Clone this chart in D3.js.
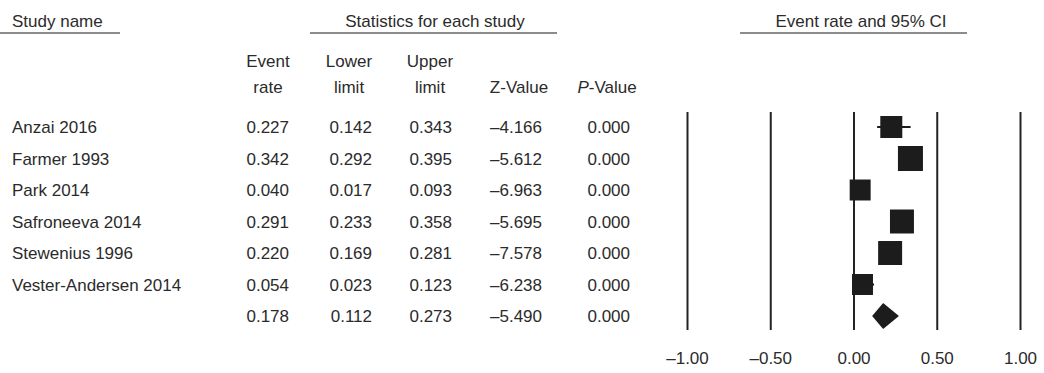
<!DOCTYPE html>
<html>
<head>
<meta charset="utf-8">
<script src="https://cdn.jsdelivr.net/npm/d3@7"></script>
<style>
  html, body { margin: 0; padding: 0; background: #fff; }
  svg { display: block; }
  text { font-family: "Liberation Sans", Arial, Helvetica, sans-serif; font-size: 17px; fill: #2b2b2b; }
</style>
</head>
<body>
<svg id="chart" width="1044" height="373"></svg>
<script>
// Study-level event rates with 95% CI
const studies   = ["Anzai 2016", "Farmer 1993", "Park 2014", "Safroneeva 2014", "Stewenius 1996", "Vester-Andersen 2014"];
const eventRate = [0.227, 0.342, 0.040, 0.291, 0.220, 0.054];
const lowerLim  = [0.142, 0.292, 0.017, 0.233, 0.169, 0.023];
const upperLim  = [0.343, 0.395, 0.093, 0.358, 0.281, 0.123];
const zValues   = [-4.166, -5.612, -6.963, -5.695, -7.578, -6.238];
const pValues   = [0.000, 0.000, 0.000, 0.000, 0.000, 0.000];
const weights   = [15.4, 19.9, 14.0, 18.3, 18.3, 14.0];   // relative weight (%)

// Pooled estimate
const pooledRate  = [0.178];
const pooledLower = [0.112];
const pooledUpper = [0.273];
const pooledZ     = [-5.490];
const pooledP     = [0.000];

const axisTicks = [-1.0, -0.5, 0.0, 0.5, 1.0];

const fmt = d3.formatLocale({decimal: ".", thousands: ",", grouping: [3], currency: ["", ""], minus: "\u2013"}).format(".3f");
const tickFmt = d3.formatLocale({decimal: ".", thousands: ",", grouping: [3], currency: ["", ""], minus: "\u2013"}).format(".2f");

const svg = d3.select("#chart");

// rows: 6 studies + pooled line
const nRows = studies.length + 1;
const y = d3.scaleLinear().domain([0, nRows - 1]).range([127, 316]);
const x = d3.scaleLinear().domain([-1, 1]).range([687, 1020]);
const size = d3.scaleSqrt().domain([0, d3.max(weights)]).range([0, 25]);

// ---- section headers with underlines ----
const headers = [
  {label: "Study name", x: 12, anchor: "start", x1: 0, x2: 120},
  {label: "Statistics for each study", x: 435, anchor: "middle", x1: 310, x2: 557},
  {label: "Event rate and 95% CI", x: 861, anchor: "middle", x1: 740, x2: 967}
];
svg.selectAll("line.hdr").data(headers).join("line")
  .attr("class", "hdr")
  .attr("x1", d => d.x1).attr("x2", d => d.x2)
  .attr("y1", 33).attr("y2", 33)
  .attr("stroke", "#8c8c8c").attr("stroke-width", 2);
svg.selectAll("text.hdr").data(headers).join("text")
  .attr("class", "hdr")
  .attr("x", d => d.x).attr("y", 27)
  .attr("text-anchor", d => d.anchor)
  .text(d => d.label);

// ---- column headers ----
const columns = [
  {top: "Event", bottom: "rate", hx: 268, nx: 289},
  {top: "Lower", bottom: "limit", hx: 349, nx: 372},
  {top: "Upper", bottom: "limit", hx: 430, nx: 452},
  {top: "", bottom: "Z-Value", hx: 519, nx: 542},
  {top: "", bottom: "P", hx: 607, nx: 630}
];
const colG = svg.append("g");
columns.forEach(c => {
  if (c.top) colG.append("text").attr("x", c.hx).attr("y", 67).attr("text-anchor", "middle").text(c.top);
  const t = colG.append("text").attr("x", c.hx).attr("y", 93).attr("text-anchor", "middle");
  if (c.bottom === "P") {
    t.append("tspan").attr("font-style", "italic").text("P");
    t.append("tspan").text("-Value");
  } else {
    t.text(c.bottom);
  }
});

// ---- table rows ----
const rows = studies.map((s, i) => ({
  name: s, vals: [eventRate[i], lowerLim[i], upperLim[i], zValues[i], pValues[i]], i
}));
rows.push({name: "", vals: [pooledRate[0], pooledLower[0], pooledUpper[0], pooledZ[0], pooledP[0]], i: studies.length});

const rowG = svg.append("g").selectAll("g").data(rows).join("g")
  .attr("transform", d => `translate(0,${y(d.i) + 6})`);
rowG.append("text").attr("x", 12).text(d => d.name);
columns.forEach((c, k) => {
  rowG.append("text").attr("x", c.nx).attr("text-anchor", "end").text(d => fmt(d.vals[k]));
});

// ---- forest plot axis with full-height reference lines ----
const yTop = 112, yBottom = 330;
const axis = d3.axisBottom(x).tickValues(axisTicks).tickFormat(tickFmt)
  .tickSizeInner(-(yBottom - yTop)).tickSizeOuter(0).tickPadding(22);
const axG = svg.append("g").attr("transform", `translate(0,${yBottom})`).call(axis);
axG.select(".domain").remove();
axG.selectAll(".tick line").attr("stroke", "#222").attr("stroke-width", 2);
axG.selectAll(".tick text").attr("fill", "#2b2b2b").attr("font-size", 17)
  .attr("font-family", "'Liberation Sans', Arial, Helvetica, sans-serif");

// ---- CI whiskers and weighted squares ----
const plotG = svg.append("g");
plotG.selectAll("line.ci").data(studies.map((s, i) => i)).join("line")
  .attr("class", "ci")
  .attr("x1", i => x(lowerLim[i])).attr("x2", i => x(upperLim[i]))
  .attr("y1", i => y(i)).attr("y2", i => y(i))
  .attr("stroke", "#1c1c1c").attr("stroke-width", 2.2);
plotG.selectAll("rect.pt").data(studies.map((s, i) => i)).join("rect")
  .attr("class", "pt")
  .attr("x", i => x(eventRate[i]) - size(weights[i]) / 2)
  .attr("y", i => y(i) - size(weights[i]) / 2)
  .attr("width", i => size(weights[i]))
  .attr("height", i => size(weights[i]))
  .attr("fill", "#1c1c1c");

// ---- pooled diamond ----
const yp = y(studies.length), hh = 13;
plotG.append("path")
  .attr("d", `M${x(pooledLower[0])},${yp} L${x(pooledRate[0])},${yp - hh} L${x(pooledUpper[0])},${yp} L${x(pooledRate[0])},${yp + hh} Z`)
  .attr("fill", "#1c1c1c");
</script>
</body>
</html>
